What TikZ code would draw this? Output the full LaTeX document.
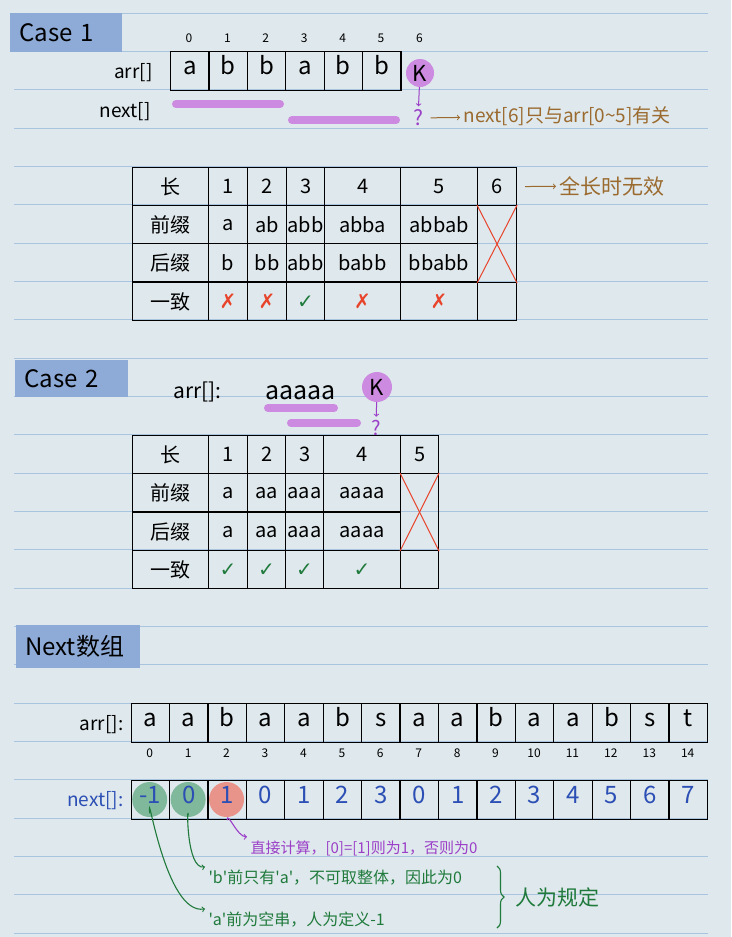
\documentclass[tikz,border=0pt]{standalone}
\usepackage{fontspec}
\setmainfont{Noto Sans CJK SC}
\newfontfamily\symfont{DejaVu Sans}
\usetikzlibrary{positioning}
\usetikzlibrary{decorations.pathreplacing}

\definecolor{paper}{HTML}{DFE8EC}
\definecolor{ruleblue}{HTML}{A9C4DF}
\definecolor{head}{HTML}{8EAAD6}
\definecolor{hilite}{HTML}{CC8BE0}
\definecolor{violet2}{HTML}{9B3FC8}
\definecolor{brown2}{HTML}{9A6A2E}
\definecolor{okgreen}{HTML}{1F7A3C}
\definecolor{badred}{HTML}{E8432B}
\definecolor{inkblue}{HTML}{2B4FB5}
\definecolor{greenball}{HTML}{7FB89A}
\definecolor{redball}{HTML}{E8948A}

\newcommand{\nomatch}{{\symfont\color{badred}✗}}
\newcommand{\okmatch}{{\symfont\color{okgreen}✓}}
\newcommand{\q}{\textquotesingle}

\begin{document}
\begin{tikzpicture}
	[x=1pt, y=-1pt,
	 header/.style={fill=head, anchor=north west, inner xsep=9pt, inner ysep=0pt, text width=#1, font=\fontsize{24}{24}\selectfont},
	 cell/.style={draw=black, line width=1.2pt, anchor=north west, minimum width=38.4, minimum height=39, inner sep=0pt, text height=0.72em, text depth=0pt, font=\fontsize{24}{24}\selectfont},
	 tcell/.style={draw, line width=1.1pt, anchor=north west, minimum height=38.3, inner sep=0pt, font=\fontsize{20}{20}\selectfont},
	 idx/.style={font=\fontsize{12}{12}\selectfont},
	 ball/.style={circle, inner sep=0pt, minimum size=#1},
	 bar/.style={hilite, line width=8pt, line cap=round},
	 label/.style={anchor=east, font=\fontsize{19}{19}\selectfont},
	 note/.style={anchor=west, font=\fontsize{16}{16}\selectfont}]

	\useasboundingbox (0,0) rectangle (731,937);
	\fill[paper] (0,0) rectangle (731,937);
	\foreach \k in {0,...,24}
		\draw[ruleblue, line width=0.8pt] (14,13+38.33*\k) -- (708,13+38.33*\k);

	% Case 1
	\node[header=94pt, minimum height=39] (case1) at (10,13) {Case 1};
	\node[label] (arr1) at (156,73) {arr[]};
	\node[label] (next1) at (154,112) {next[]};
	\foreach \ch [count=\i from 0] in {a,b,b,a,b,b}
		\node[cell] (a1c\i) at (170+38.4*\i,51) {\ch};
	\foreach \i in {0,...,6}
		\node[idx] (i1\i) at (189+38.4*\i,38) {\i};
	\node[ball=28, fill=hilite, font=\fontsize{22}{22}\selectfont] (k1) at (420,73) {K};
	\node[violet2, font=\fontsize{21}{21}\selectfont] (q1) at (418,118) {?};
	\draw[->, violet2, line width=1pt] (k1) -- (q1);
	\draw[bar] (176,104) -- (280,104);
	\draw[bar] (292,120) -- (396,120);
	\node[note, brown2, font=\fontsize{19}{19}\selectfont] (only) at (460,116) {next[6]只与arr[0\textasciitilde5]有关};
	\draw[->, brown2, line width=1pt, shorten <=4pt] (q1) -- (only);

	% table 1
	\foreach \x/\w/\t [count=\c] in {132/76/长,208/39/1,247/39/2,286/38/3,324/76/4,400/77/5,477/39/6}
		\node[tcell, minimum width=\w] (t1r0c\c) at (\x,167) {\t};
	\foreach \x/\w/\t [count=\c] in {132/76/前缀,208/39/a,247/39/ab,286/38/abb,324/76/abba,400/77/abbab}
		\node[tcell, minimum width=\w] (t1r1c\c) at (\x,205) {\t};
	\foreach \x/\w/\t [count=\c] in {132/76/后缀,208/39/b,247/39/bb,286/38/abb,324/76/babb,400/77/bbabb}
		\node[tcell, minimum width=\w] (t1r2c\c) at (\x,243) {\t};
	\foreach \x/\w/\t [count=\c] in {132/76/一致,208/39/\nomatch,247/39/\nomatch,286/38/\okmatch,324/76/\nomatch,400/77/\nomatch,477/39/{}}
		\node[tcell, minimum width=\w] (t1r3c\c) at (\x,282) {\t};
	\node[tcell, minimum width=39, minimum height=77] (t1x) at (477,205) {};
	\draw[badred, line width=1pt] (t1x.north west) -- (t1x.south east);
	\draw[badred, line width=1pt] (t1x.north east) -- (t1x.south west);
	\node[note, brown2, font=\fontsize{21}{21}\selectfont] (whole) at (556,186) {全长时无效};
	\draw[->, brown2, line width=1pt, shorten <=8pt] (t1r0c7) -- (whole);

	% Case 2
	\node[header=95pt, minimum height=37] (case2) at (15,360) {Case 2};
	\node[label, anchor=west, font=\fontsize{21}{21}\selectfont] (arr2) at (170,392) {arr[]:};
	\node[label, anchor=west, font=\fontsize{25}{25}\selectfont] (aaaaa) at (262,393) {aaaaa};
	\node[ball=30, fill=hilite, font=\fontsize{22}{22}\selectfont] (k2) at (377,387) {K};
	\node[violet2, font=\fontsize{20}{20}\selectfont] (q2) at (376,428) {?};
	\draw[->, violet2, line width=1pt] (k2) -- (q2);
	\draw[bar] (268,408) -- (334,408);
	\draw[bar] (291,423) -- (357,423);

	% table 2
	\foreach \x/\w/\t [count=\c] in {132/76/长,208/39/1,247/38/2,285/38/3,323/77/4,400/38/5}
		\node[tcell, minimum width=\w] (t2r0c\c) at (\x,435) {\t};
	\foreach \x/\w/\t [count=\c] in {132/76/前缀,208/39/a,247/38/aa,285/38/aaa,323/77/aaaa}
		\node[tcell, minimum width=\w] (t2r1c\c) at (\x,473) {\t};
	\foreach \x/\w/\t [count=\c] in {132/76/后缀,208/39/a,247/38/aa,285/38/aaa,323/77/aaaa}
		\node[tcell, minimum width=\w] (t2r2c\c) at (\x,512) {\t};
	\foreach \x/\w/\t [count=\c] in {132/76/一致,208/39/\okmatch,247/38/\okmatch,285/38/\okmatch,323/77/\okmatch,400/38/{}}
		\node[tcell, minimum width=\w] (t2r3c\c) at (\x,550) {\t};
	\node[tcell, minimum width=38, minimum height=77] (t2x) at (400,473) {};
	\draw[badred, line width=1pt] (t2x.north west) -- (t2x.south east);
	\draw[badred, line width=1pt] (t2x.north east) -- (t2x.south west);

	% Next array
	\node[header=106pt, minimum height=43] (nexthead) at (16,625) {Next数组};
	\node[label] (arr3) at (127,725) {arr[]:};
	\foreach \ch [count=\i from 0] in {a,a,b,a,a,b,s,a,a,b,a,a,b,s,t} {
		\node[cell] (a3c\i) at (130.5+38.43*\i,703) {\ch};
		\node[idx] (i3\i) at (149.7+38.43*\i,753) {\i};
	}
	\foreach \i/\col in {0/greenball,1/greenball,2/redball}
		\node[ball=35, fill=\col] (b\i) at (149.7+38.43*\i,799.5) {};
	\node[label, inkblue] (next3) at (127,801) {next[]:};
	\foreach \v [count=\i from 0] in {-1,0,1,0,1,2,3,0,1,2,3,4,5,6,7}
		\node[cell, text=inkblue] (n\i) at (130.5+38.43*\i,780) {\v};

	\node[note, violet2, font=\fontsize{15}{15}\selectfont] (calc) at (247,848) {直接计算，[0]=[1]则为1，否则为0};
	\node[note, okgreen] (bnote) at (205,878) {\q b\q 前只有\q a\q ，不可取整体，因此为0};
	\node[note, okgreen] (anote) at (205,920) {\q a\q 前为空串，人为定义-1};
	\draw[->, violet2, line width=1.1pt] (n2.south) to[out=90, in=180] (calc.north west);
	\draw[->, okgreen, line width=1.1pt, shorten <=5pt] (n1.south) to[out=95, in=190] (bnote.north west);
	\draw[->, okgreen, line width=1.1pt, shorten <=7pt] (n0.south) to[out=95, in=190] (anote.north west);
	\coordinate (brtop) at (497,866);
	\coordinate (brbot) at (497,928);
	\draw[okgreen, line width=1.1pt, decorate, decoration={brace, amplitude=7pt}] (brtop) -- (brbot);
	\node[note, okgreen, font=\fontsize{21}{21}\selectfont] (bydef) at (512,897) {人为规定};
\end{tikzpicture}
\end{document}
